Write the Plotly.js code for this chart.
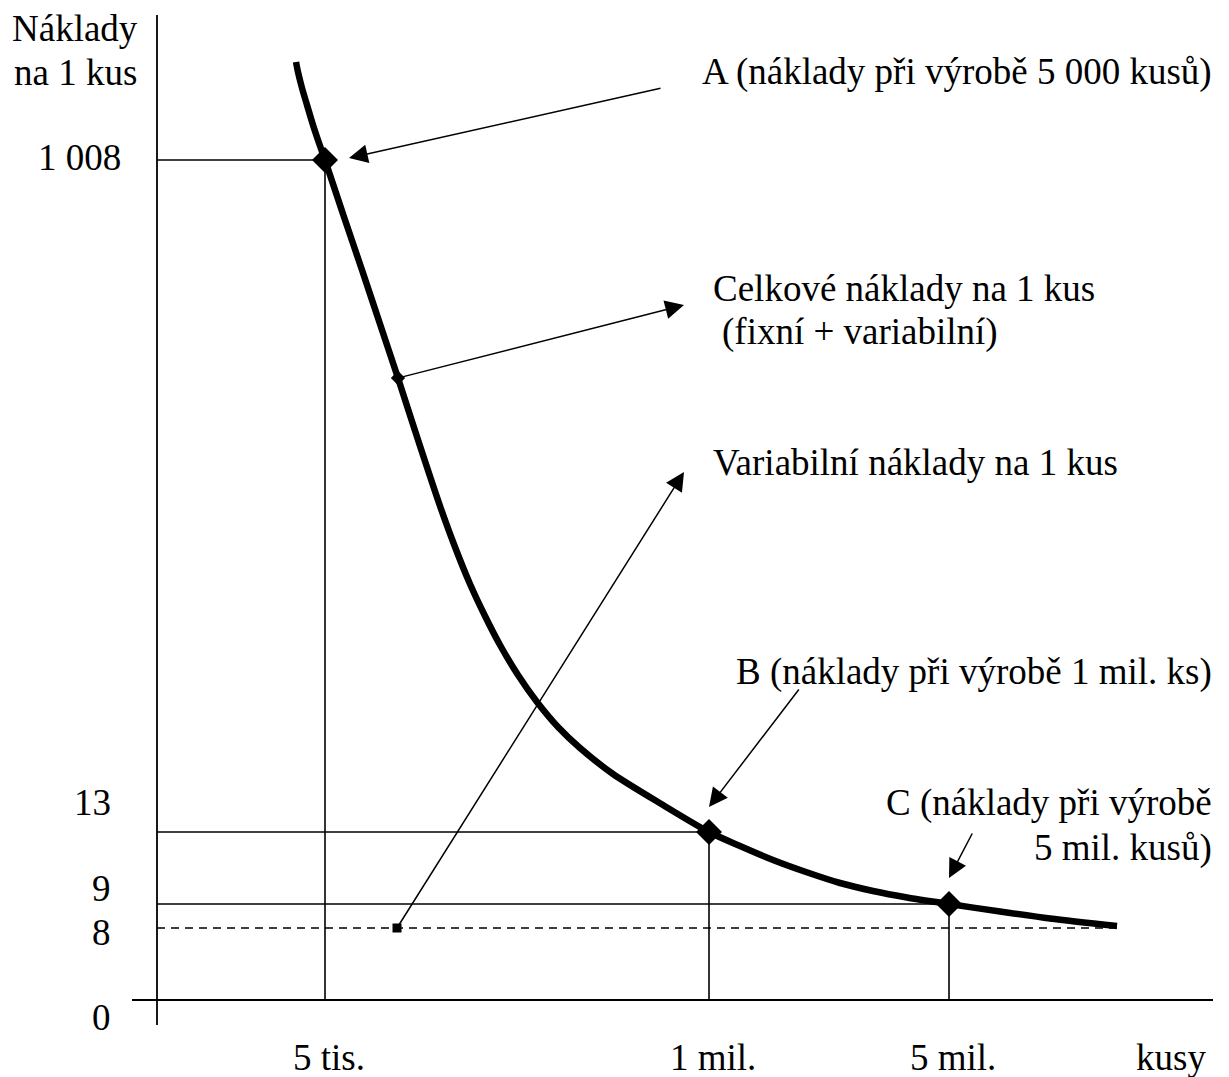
<!DOCTYPE html>
<html>
<head>
<meta charset="utf-8">
<script src="https://cdn.plot.ly/plotly-3.0.1.min.js"></script>
<style>html,body{margin:0;padding:0;background:#fff;}#chart{width:1229px;height:1077px;}</style>
</head>
<body>
<div id="chart"></div>
<script>
// ---- Data (schematic units: origin at axis crossing, not to scale) ----
const curveX = [139, 141, 145, 150, 156, 162, 168, 186, 205, 223, 241, 263, 283, 298, 313, 328, 343, 361, 380, 401, 423, 456, 506, 552, 583, 616, 649, 683, 716, 750, 792, 843, 893, 960];
const curveY = [938, 928, 912, 895, 875, 857, 840, 786, 730, 676, 622, 554, 494, 453, 416, 384, 355, 325, 298, 273, 252, 226, 195, 168, 154, 140, 128, 117, 109, 102.5, 96, 88.5, 81.5, 74];

const pointNames = ['A', 'B', 'C'];
const pointX = [168, 552, 792];
const pointY = [840, 168, 96];

const varLevel = 72;       // variable costs per unit (8)
const varLineEnd = 960;

const yTickText = ['1 008', '13', '9', '8', '0'];
const yTickVal  = [840, 168, 96, 72, 0];
const xTickText = ['5 tis.', '1 mil.', '5 mil.', 'kusy'];
const xTickVal  = [168, 552, 792, 1014];

const yAxisTitle = ['Náklady', 'na 1 kus'];
const noteA = 'A (náklady při výrobě 5 000 kusů)';
const noteTotal = ['Celkové náklady na 1 kus', '(fixní + variabilní)'];
const noteVar = 'Variabilní náklady na 1 kus';
const noteB = 'B (náklady při výrobě 1 mil. ks)';
const noteC = ['C (náklady při výrobě', '5 mil. kusů)'];

// annotation pointer anchor points on the curve (schematic units)
const totalPointer = [241, 622];
const varPointer = [240, 72];

// ---- Build ----
const black = '#000';
const serif = {family: 'Liberation Serif, Times New Roman, Times, serif', size: 37, color: black};
const traces = [];
function seg(x, y, w, dash) {
  traces.push({x: x, y: y, mode: 'lines', type: 'scatter', hoverinfo: 'skip',
    line: {color: black, width: w, dash: dash || 'solid'}});
}
// axes
seg([0, 0], [-25, 985], 1.8);
seg([-25, 1056], [0, 0], 1.8);
// reference lines for A, B, C
for (let i = 0; i < pointX.length; i++) {
  seg([0, pointX[i]], [pointY[i], pointY[i]], 1.6);
  seg([pointX[i], pointX[i]], [0, pointY[i]], 1.6);
}
// variable cost dashed line
seg([0, varLineEnd], [varLevel, varLevel], 1.4, '8px,6px');
// total cost curve
traces.push({x: curveX, y: curveY, mode: 'lines', type: 'scatter', hoverinfo: 'skip',
  line: {color: black, width: 6.5, shape: 'spline', smoothing: 0.8}});
// point markers
traces.push({x: pointX, y: pointY, text: pointNames, mode: 'markers', type: 'scatter', hoverinfo: 'skip',
  marker: {symbol: 'diamond', size: 20, color: black}});
traces.push({x: [totalPointer[0]], y: [totalPointer[1]], mode: 'markers', type: 'scatter', hoverinfo: 'skip',
  marker: {symbol: 'diamond', size: 11, color: black}});
traces.push({x: [varPointer[0]], y: [varPointer[1]], mode: 'markers', type: 'scatter', hoverinfo: 'skip',
  marker: {symbol: 'square', size: 9, color: black}});

const ann = [];
function label(text, x, y, xanchor, yshift) {
  ann.push({text: text, x: x, y: y, xref: 'x', yref: 'y', xanchor: xanchor, yanchor: 'middle',
    yshift: yshift || 0, showarrow: false, font: serif});
}
function arrow(tx, ty, hx, hy) {
  ann.push({text: '', x: hx, y: hy, ax: tx, ay: ty, xref: 'x', yref: 'y', axref: 'x', ayref: 'y',
    showarrow: true, arrowhead: 2, arrowsize: 2.5, arrowwidth: 1.5, arrowcolor: black, standoff: 0, startstandoff: 0});
}
// y tick labels (placed beside their levels)
const yLabelShift = [3, 30, 16, -4, -17];
const yLabelRight = [-34, -44, -44, -44, -44];
for (let i = 0; i < yTickText.length; i++) label(yTickText[i], yLabelRight[i], yTickVal[i], 'right', yLabelShift[i]);
// x tick labels
for (let i = 0; i < xTickText.length; i++) label(xTickText[i], xTickVal[i] + (i < 3 ? 4 : 0), 0, 'center', -57);
// y axis title
label(yAxisTitle[0], -82, 972, 'center');
label(yAxisTitle[1], -82, 928, 'center');
// notes
label(noteA, 1057, 928, 'right');
label(noteTotal[0], 554, 712, 'left');
label(noteTotal[1], 563, 668, 'left');
label(noteVar, 554, 538, 'left');
label(noteB, 1057, 328, 'right');
label(noteC[0], 1057, 197, 'right');
label(noteC[1], 1057, 152, 'right');
// arrows
arrow(505, 912, 192, 842);                               // to A
arrow(totalPointer[0], totalPointer[1], 527, 695);       // total cost note
arrow(varPointer[0], varPointer[1], 527, 528);           // variable cost note
arrow(643, 312, 552, 193);                               // to B
arrow(816, 168, 792, 122);                               // to C

const layout = {
  width: 1229, height: 1077,
  margin: {l: 0, r: 0, t: 0, b: 0, pad: 0},
  paper_bgcolor: '#fff', plot_bgcolor: '#fff',
  showlegend: false,
  font: serif,
  xaxis: {range: [-157, 1072], visible: false, fixedrange: true},
  yaxis: {range: [-77, 1000], visible: false, fixedrange: true},
  annotations: ann
};
Plotly.newPlot('chart', traces, layout, {displayModeBar: false, staticPlot: true});
</script>
</body>
</html>
